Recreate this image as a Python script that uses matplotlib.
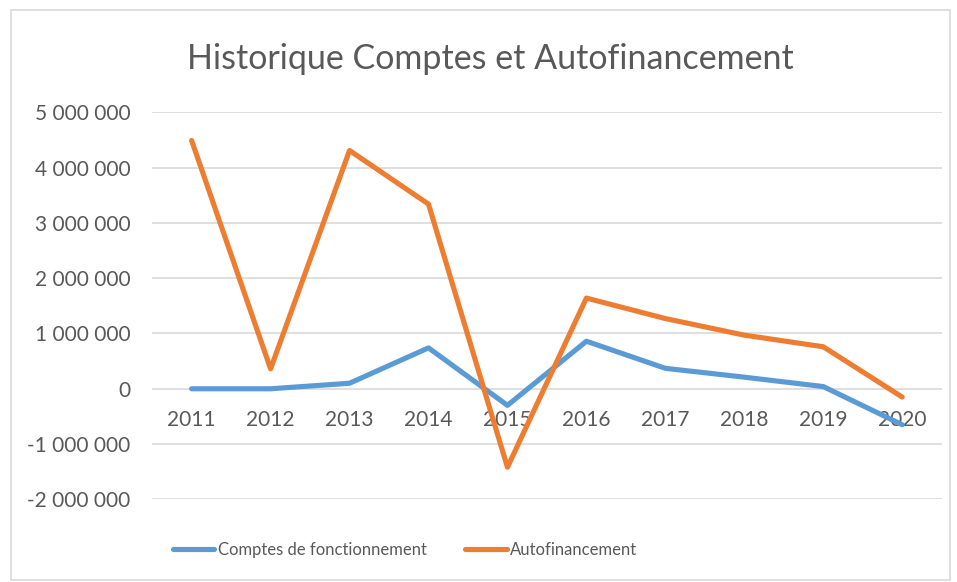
import matplotlib.pyplot as plt
from matplotlib.ticker import FuncFormatter, MultipleLocator
from matplotlib.patches import Rectangle

plt.rcParams['font.family'] = ['Lato', 'DejaVu Sans']

annees = ["2011", "2012", "2013", "2014", "2015", "2016", "2017", "2018", "2019", "2020"]
comptes = [0, 0, 100000, 740000, -300000, 860000, 370000, 210000, 40000, -650000]
autofin = [4490000, 360000, 4310000, 3340000, -1420000, 1640000, 1270000, 970000, 760000, -150000]

gris = "#595959"
bleu = "#5B9BD5"
orange = "#ED7D31"

fig = plt.figure(figsize=(9.57, 5.82), dpi=100)
ax = fig.add_axes([0.159, 0.142, 0.825, 0.665])

x = list(range(len(annees)))
ax.plot(x, comptes, color=bleu, lw=3.7, solid_capstyle='round', solid_joinstyle='round',
        label="Comptes de fonctionnement", zorder=3)
ax.plot(x, autofin, color=orange, lw=3.7, solid_capstyle='round', solid_joinstyle='round',
        label="Autofinancement", zorder=3)

ax.set_xlim(-0.5, len(annees) - 0.5)
ax.set_ylim(-2000000, 5000000)
ax.yaxis.set_major_locator(MultipleLocator(1000000))
ax.yaxis.set_major_formatter(FuncFormatter(lambda v, p: f"{int(v):,}".replace(",", " ")))
ax.grid(axis='y', color="#D9D9D9", lw=1.2, zorder=0)
ax.set_axisbelow(True)

for s in ['top', 'right', 'left']:
    ax.spines[s].set_visible(False)
ax.spines['bottom'].set_position(('data', 0))
ax.spines['bottom'].set_visible(False)

ax.set_xticks(x)
ax.set_xticklabels(annees)
ax.tick_params(axis='x', length=0, pad=15, labelsize=15, labelcolor=gris)
ax.tick_params(axis='y', length=0, pad=15.8, labelsize=15, labelcolor=gris)

fig.text(0.512, 0.898, "Historique Comptes et Autofinancement", ha='center', va='center',
         fontsize=24.5, color=gris)

fig.legend(loc='center', bbox_to_anchor=(0.423, 0.055), ncol=2, frameon=False,
           fontsize=12, handlelength=2.5, handletextpad=0.2, columnspacing=2.3,
           labelcolor=gris)

fig.patches.append(Rectangle((0.011, 0.003), 0.982, 0.98, transform=fig.transFigure,
                             fill=False, edgecolor="#D9D9D9", lw=1.2))

fig.savefig("out.png", dpi=100)
